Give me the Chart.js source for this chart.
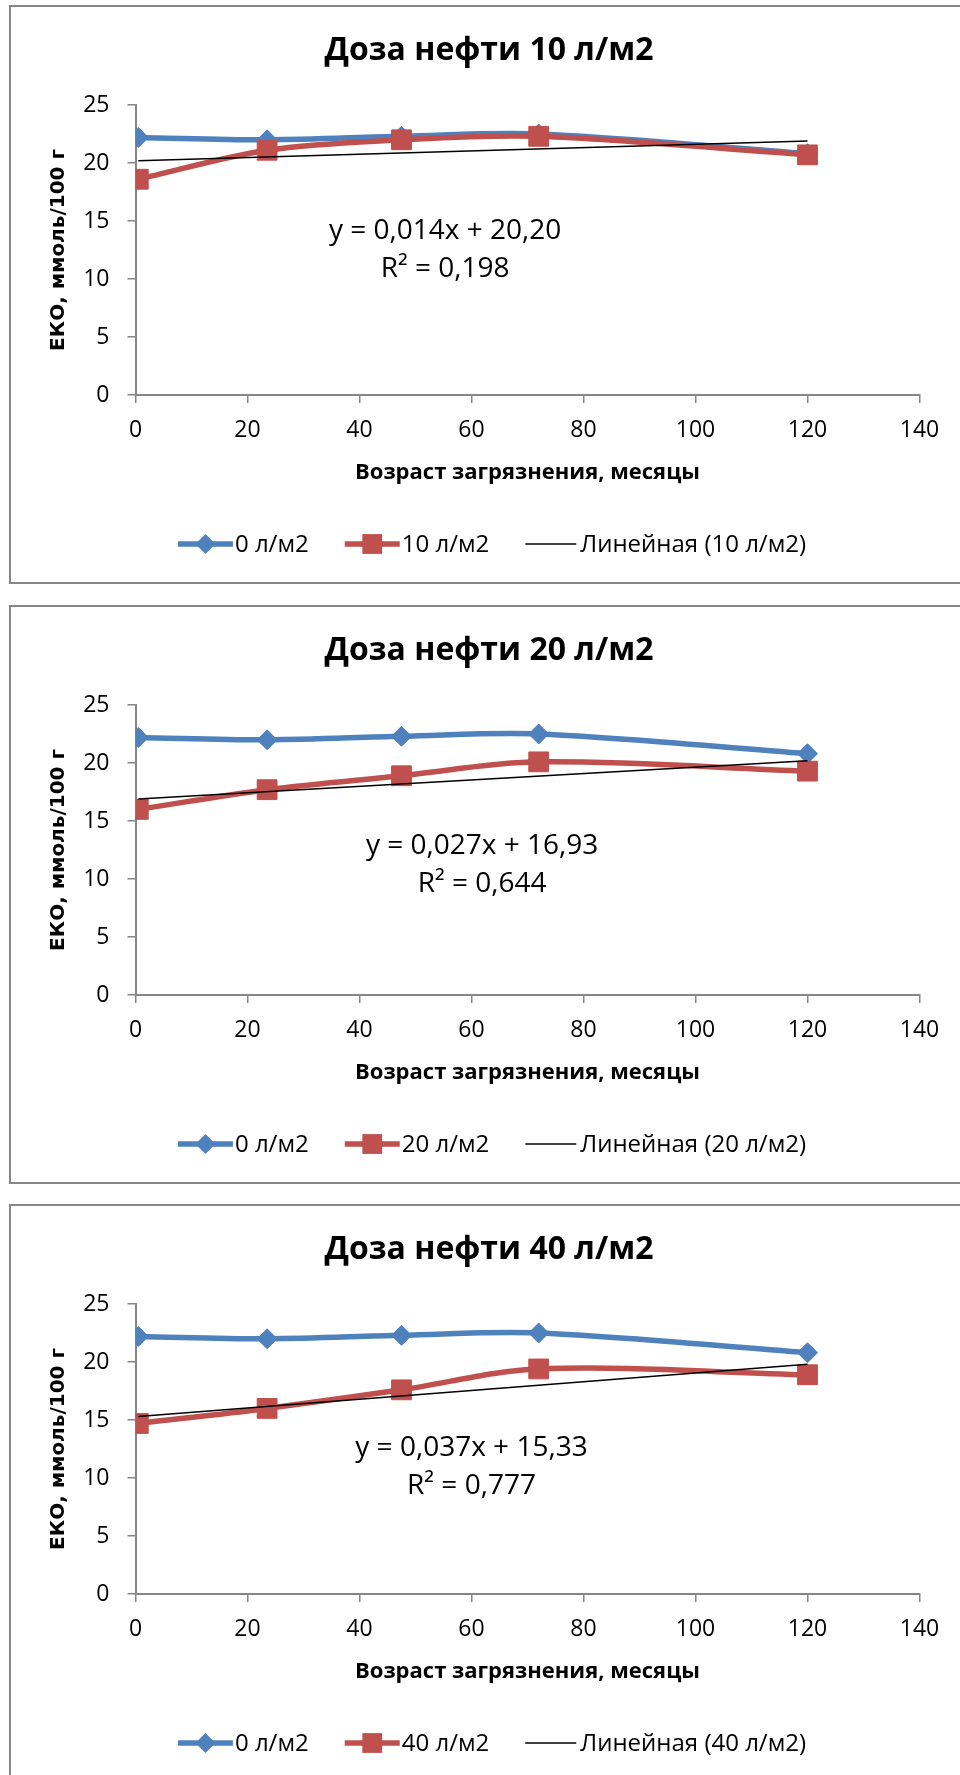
<!DOCTYPE html>
<html>
<head>
<meta charset="utf-8">
<script src="https://cdn.jsdelivr.net/npm/chart.js@4/dist/chart.umd.min.js"></script>
<style>
  html, body { margin: 0; padding: 0; background: #fff; overflow: hidden; }
  body { width: 960px; height: 1775px; position: relative; }
  .panel { position: absolute; left: 9px; width: 962px; height: 575px; border: 2px solid #878787; background: #fff; }
  .panel canvas { display: block; }
</style>
</head>
<body>
<div class="panel" style="top:5px"><canvas id="chart10" width="960" height="575"></canvas></div>
<div class="panel" style="top:605px"><canvas id="chart20" width="960" height="575"></canvas></div>
<div class="panel" style="top:1204px"><canvas id="chart40" width="960" height="575"></canvas></div>
<script>
// months since contamination
var months = [0.5, 23.5, 47.5, 72, 120]
var xTicks = [0, 20, 40, 60, 80, 100, 120, 140]
var yTicks = [0, 5, 10, 15, 20, 25]

// ЕКО, ммоль/100 г
var control = [22.2, 22.0, 22.3, 22.5, 20.8]
var dose10 = [18.6, 21.1, 22.0, 22.3, 20.7]
var dose20 = [16.0, 17.7, 18.9, 20.1, 19.3]
var dose40 = [14.7, 16.0, 17.6, 19.4, 18.9]

// linear trend ends (read at first and last month)
var trendMonths = [0.5, 120]
var trend10 = [20.2, 21.9]
var trend20 = [16.9, 20.2]
var trend40 = [15.3, 19.8]

var controlLabel = '0 л/м2'
var doseLabels = ['10 л/м2', '20 л/м2', '40 л/м2']
var titles = ['Доза нефти 10 л/м2', 'Доза нефти 20 л/м2', 'Доза нефти 40 л/м2']
var equations = ['y = 0,014x + 20,20', 'y = 0,027x + 16,93', 'y = 0,037x + 15,33']
var rSquared = ['R² = 0,198', 'R² = 0,644', 'R² = 0,777']

// where the equation text sits, in axis units: [x, y of line 1, y of line 2]
var eqPlace = [[55.3, 14.15, 10.9], [61.9, 12.8, 9.6], [60.0, 12.6, 9.3]]

var BLUE = '#4F81BD'
var RED = '#C0504D'
var AXIS = '#868686'
var FONT = '"Open Sans", "Noto Sans", sans-serif'

function points (xs, ys) {
  return ys.map(function (v, i) { return { x: xs[i], y: v } })
}

function drawMarker (ctx, style, x, y, r, color) {
  ctx.fillStyle = color
  if (style === 'rectRot') {
    ctx.beginPath()
    ctx.moveTo(x - r, y)
    ctx.lineTo(x, y - r)
    ctx.lineTo(x + r, y)
    ctx.lineTo(x, y + r)
    ctx.closePath()
    ctx.fill()
  } else if (style === 'rect') {
    var s = Math.SQRT1_2 * r
    ctx.fillRect(x - s, y - s, 2 * s, 2 * s)
  }
}

function drawLegend (chart, cx, cy) {
  var ctx = chart.ctx
  ctx.font = '24px ' + FONT
  ctx.textAlign = 'left'
  ctx.textBaseline = 'middle'
  var items = chart.data.datasets.map(function (ds) {
    var hasMarker = ds.pointRadius > 0
    return {
      ds: ds,
      lineLen: hasMarker ? 55 : 51,
      gap: hasMarker ? 2 : 4,
      textW: ctx.measureText(ds.label).width
    }
  })
  var total = 0
  items.forEach(function (it, i) {
    total += it.lineLen + it.gap + it.textW + (i > 0 ? 36 : 0)
  })
  var x = cx - total / 2
  items.forEach(function (it) {
    var ds = it.ds
    ctx.strokeStyle = ds.borderColor
    ctx.lineWidth = ds.borderWidth
    ctx.beginPath()
    ctx.moveTo(x, cy)
    ctx.lineTo(x + it.lineLen, cy)
    ctx.stroke()
    if (ds.pointRadius > 0) drawMarker(ctx, ds.pointStyle, x + it.lineLen / 2, cy, ds.pointRadius, ds.borderColor)
    ctx.fillStyle = '#000'
    ctx.fillText(ds.label, x + it.lineLen + it.gap, cy + 1)
    x += it.lineLen + it.gap + it.textW + 36
  })
}

var panelDecor = {
  id: 'panelDecor',
  afterDraw: function (chart, args, opts) {
    var ctx = chart.ctx
    var xs = chart.scales.x
    var ys = chart.scales.y
    ctx.save()
    ctx.fillStyle = '#000'
    ctx.textAlign = 'center'
    ctx.textBaseline = 'middle'
    ctx.font = 'bold 32px ' + FONT
    ctx.fillText(opts.title, 478, 44)
    ctx.font = '28px ' + FONT
    var px = xs.getPixelForValue(opts.place[0])
    ctx.fillText(opts.equation, px, ys.getPixelForValue(opts.place[1]))
    ctx.fillText(opts.r2, px, ys.getPixelForValue(opts.place[2]))
    drawLegend(chart, 481, 537)
    ctx.restore()
  }
}

function makeChart (id, idx, doseValues, trendValues) {
  var ctx = document.getElementById(id)
  new Chart(ctx, {
    type: 'line',
    data: {
      datasets: [
        {
          label: controlLabel,
          data: points(months, control),
          borderColor: BLUE,
          backgroundColor: BLUE,
          pointBackgroundColor: BLUE,
          pointBorderColor: BLUE,
          borderWidth: 5.5,
          pointStyle: 'rectRot',
          pointRadius: 10,
          pointBorderWidth: 1,
          tension: 0.33,
          order: 2
        },
        {
          label: doseLabels[idx],
          data: points(months, doseValues),
          borderColor: RED,
          backgroundColor: RED,
          pointBackgroundColor: RED,
          pointBorderColor: RED,
          borderWidth: 5.5,
          pointStyle: 'rect',
          pointRadius: 14,
          pointBorderWidth: 1,
          tension: 0.33,
          order: 1
        },
        {
          label: 'Линейная (' + doseLabels[idx] + ')',
          data: points(trendMonths, trendValues),
          borderColor: '#000',
          borderWidth: 1.6,
          pointRadius: 0,
          tension: 0,
          order: 0
        }
      ]
    },
    options: {
      responsive: false,
      animation: false,
      events: [],
      layout: { padding: { left: 0, top: 98, right: 51.5, bottom: 96.4 } },
      plugins: {
        legend: { display: false },
        tooltip: { enabled: false },
        title: { display: false },
        panelDecor: {
          title: titles[idx],
          equation: equations[idx],
          r2: rSquared[idx],
          place: eqPlace[idx]
        }
      },
      scales: {
        x: {
          type: 'linear',
          min: xTicks[0],
          max: xTicks[xTicks.length - 1],
          afterFit: function (scale) { scale.height = 90.6 },
          ticks: {
            stepSize: xTicks[1] - xTicks[0],
            color: '#000',
            padding: 14,
            maxRotation: 0,
            font: { family: FONT, size: 23 }
          },
          grid: { drawOnChartArea: false, color: AXIS, lineWidth: 1.5, tickLength: 8 },
          border: { color: AXIS, width: 2 },
          title: {
            display: true,
            text: 'Возраст загрязнения, месяцы',
            color: '#000',
            padding: { top: 0, bottom: 0 },
            font: { family: FONT, size: 22, weight: 'bold' }
          }
        },
        y: {
          type: 'linear',
          min: yTicks[0],
          max: yTicks[yTicks.length - 1],
          afterFit: function (scale) { scale.width = 124.5 },
          ticks: {
            stepSize: yTicks[1] - yTicks[0],
            color: '#000',
            padding: 18,
            font: { family: FONT, size: 23 }
          },
          grid: { drawOnChartArea: false, color: AXIS, lineWidth: 1.5, tickLength: 8 },
          border: { color: AXIS, width: 2 },
          title: {
            display: true,
            text: 'ЕКО, ммоль/100 г',
            color: '#000',
            padding: { top: 36, bottom: 0 },
            font: { family: '"DejaVu Sans", sans-serif', size: 20, weight: 'bold' }
          }
        }
      }
    },
    plugins: [panelDecor]
  })
}

makeChart('chart10', 0, dose10, trend10)
makeChart('chart20', 1, dose20, trend20)
makeChart('chart40', 2, dose40, trend40)
</script>
</body>
</html>
